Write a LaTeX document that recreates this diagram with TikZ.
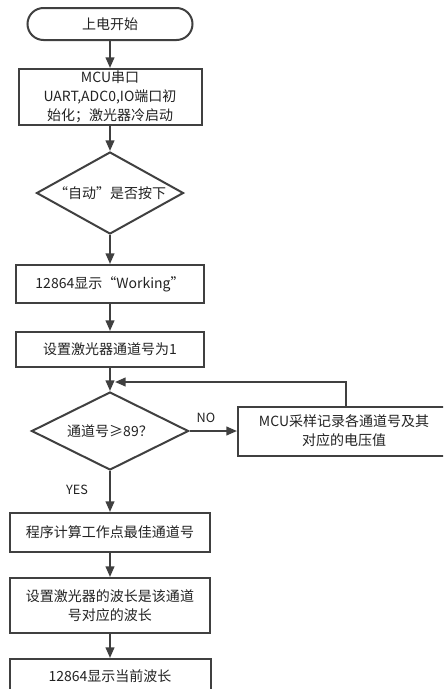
\documentclass[tikz,border=0pt]{standalone}
\usepackage{fontspec}
\setmainfont{Noto Sans CJK SC}
\usetikzlibrary{shapes.geometric,arrows.meta}
\definecolor{ln}{HTML}{404040}
\definecolor{tx}{HTML}{222222}
\begin{document}
\begin{tikzpicture}[x=0.75pt,y=-0.75pt,
 box/.style={draw=ln,line width=1.5pt,rectangle,align=center,inner sep=0pt,text=tx,font=\fontsize{10.5}{14.25}\selectfont},
 term/.style={box,rounded corners=12pt},
 dec/.style={box,diamond,shape aspect=1.8},
 arr/.style={draw=ln,line width=1.5pt,-{Triangle[length=8pt,width=6.5pt]}},
 lbl/.style={text=tx,font=\fontsize{9.5}{11}\selectfont,inner sep=0pt}]
\useasboundingbox (0,0) rectangle (443,689);
\clip (0,0) rectangle (443,689);
\node[term,minimum width=123.75pt,minimum height=24pt] (start) at (110,24) {上电开始};
\node[box,minimum width=137.25pt,minimum height=42pt] (mcu) at (110,97) {MCU串口\\UART,ADC0,IO端口初\\始化；激光器冷启动};
\node[dec,minimum width=110.25pt,minimum height=61.5pt] (d1) at (110,193) {“自动”是否按下};
\node[box,minimum width=141pt,minimum height=28.5pt] (work) at (110,284) {12864显示“Working”};
\node[box,minimum width=141pt,minimum height=26.25pt] (set1) at (110,349.5) {设置激光器通道号为1};
\node[dec,minimum width=117.75pt,minimum height=58.5pt] (d2) at (110,431) {通道号≥89？};
\node[box,minimum width=159pt,minimum height=36.75pt] (samp) at (344,431) {MCU采样记录各通道号及其\\对应的电压值};
\node[box,minimum width=150pt,minimum height=29.25pt] (calc) at (110,532.5) {程序计算工作点最佳通道号};
\node[box,minimum width=150pt,minimum height=41.25pt] (wave) at (110,605.5) {设置激光器的波长是该通道\\号对应的波长};
\node[box,minimum width=150.75pt,minimum height=25.5pt] (last) at (110,676) {12864显示当前波长};
\node[lbl] (no) at (206,418) {NO};
\node[lbl] (yes) at (77,490) {YES};
\coordinate (lp) at (346,382);
\coordinate (lj) at (115,382);
\draw[arr] (start) -- (mcu);
\draw[arr] (mcu) -- (d1);
\draw[arr] (d1) -- (work);
\draw[arr] (work) -- (set1);
\draw[arr] (set1) -- (d2);
\draw[arr] (d2.east) -- (samp.west);
\draw[arr] (samp.north -| lp) -- (lp) -- (lj);
\draw[arr] (d2.south) -- (calc.north);
\draw[arr] (calc) -- (wave);
\draw[arr] (wave) -- (last);
\end{tikzpicture}
\end{document}
